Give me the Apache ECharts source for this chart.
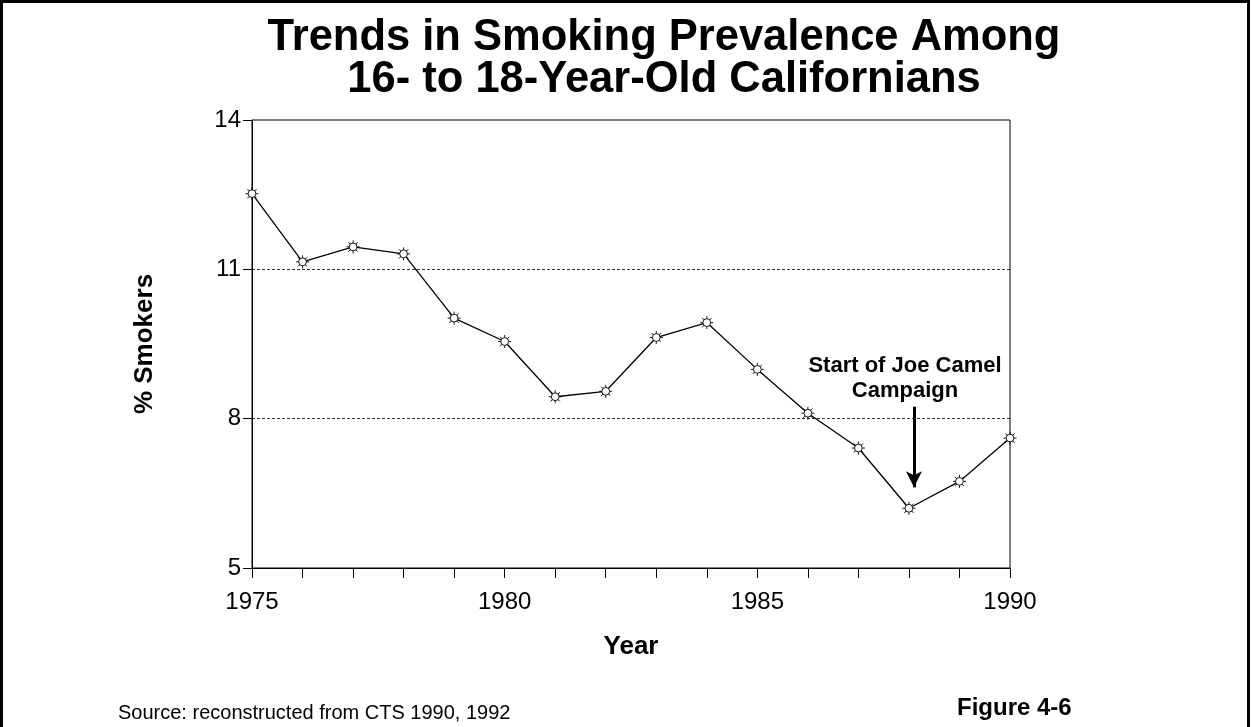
<!DOCTYPE html>
<html>
<head>
<meta charset="utf-8">
<script src="https://cdn.jsdelivr.net/npm/echarts@6/dist/echarts.min.js"></script>
<style>
  html, body { margin: 0; padding: 0; background: #fff; }
  #chart { width: 1252px; height: 727px; }
</style>
</head>
<body>
<div id="chart"></div>
<script>
const years = [1975, 1976, 1977, 1978, 1979, 1980, 1981, 1982, 1983, 1984, 1985, 1986, 1987, 1988, 1989, 1990]
const smokers = [12.52, 11.15, 11.45, 11.31, 10.02, 9.55, 8.44, 8.55, 9.63, 9.93, 8.99, 8.11, 7.41, 6.2, 6.74, 7.61]
const yTicks = [5, 8, 11, 14]
const refLines = [8, 11]
const campaignYear = 1988.1
const arrowFrom = 8.24
const arrowTo = 6.62

// little sun-shaped marker like the original
const sun = 'path://M-3,0A3,3 0 1,0 3,0A3,3 0 1,0 -3,0Z' +
  'M0,-3L0,-5M0,3L0,5M-3,0L-5,0M3,0L5,0' +
  'M2.1,2.1L3.6,3.6M-2.1,2.1L-3.6,3.6M2.1,-2.1L3.6,-3.6M-2.1,-2.1L-3.6,-3.6'

const chart = echarts.init(document.getElementById('chart'))
const font = '"Liberation Sans", Arial, sans-serif'

chart.setOption({
  animation: false,
  textStyle: { fontFamily: font, color: '#000' },
  title: {
    text: 'Trends in Smoking Prevalence Among\n16- to 18-Year-Old Californians',
    left: 659,
    textAlign: 'center',
    top: 12,
    textStyle: { fontFamily: font, fontSize: 43.5, fontWeight: 'bold', color: '#000', lineHeight: 42 }
  },
  grid: {
    left: 252,
    right: 242,
    top: 120,
    bottom: 159,
    show: true,
    borderColor: '#000',
    borderWidth: 1
  },
  xAxis: {
    type: 'value',
    min: 1975,
    max: 1990,
    interval: 5,
    name: 'Year',
    nameLocation: 'middle',
    nameGap: 66,
    nameTextStyle: { fontFamily: font, fontSize: 26, fontWeight: 'bold', color: '#000' },
    axisLine: { lineStyle: { color: '#000', width: 1 } },
    axisTick: { show: true, length: 10, lineStyle: { color: '#000' } },
    minorTick: { show: true, splitNumber: 5, length: 10, lineStyle: { color: '#000' } },
    axisLabel: { fontFamily: font, fontSize: 24, color: '#000', margin: 22, formatter: v => String(v) },
    splitLine: { show: false }
  },
  yAxis: {
    type: 'value',
    min: 5,
    max: 14,
    name: '% Smokers',
    nameLocation: 'middle',
    nameRotate: 90,
    nameGap: 94,
    nameTextStyle: { fontFamily: font, fontSize: 26, fontWeight: 'bold', color: '#000' },
    axisLine: { show: true, lineStyle: { color: '#000', width: 1 } },
    axisTick: { show: true, length: 9, customValues: yTicks, lineStyle: { color: '#000' } },
    axisLabel: { fontFamily: font, fontSize: 24, color: '#000', margin: 11, customValues: yTicks },
    splitLine: { show: false }
  },
  series: [
    {
      type: 'line',
      data: years.map((y, i) => [y, smokers[i]]),
      symbol: sun,
      symbolSize: 13,
      showAllSymbol: true,
      lineStyle: { color: '#000', width: 1.3 },
      itemStyle: { color: '#fff', borderColor: '#000', borderWidth: 0.9 },
      markLine: {
        silent: true,
        symbol: 'none',
        label: { show: false },
        lineStyle: { color: '#000', type: [3, 2], width: 0.8 },
        data: refLines.map(v => ({ yAxis: v }))
      },
      z: 3
    },
    {
      type: 'line',
      data: [],
      markLine: {
        silent: true,
        symbol: ['none', 'arrow'],
        symbolSize: [12, 16],
        lineStyle: { color: '#000', type: 'solid', width: 3 },
        label: { show: false },
        data: [[
          { coord: [campaignYear, arrowFrom] },
          { coord: [campaignYear, arrowTo] }
        ]]
      }
    }
  ],
  graphic: [
    {
      type: 'rect',
      shape: { x: 1.5, y: 1.5, width: 1247, height: 780 },
      style: { fill: 'none', stroke: '#000', lineWidth: 3 },
      silent: true
    },
    {
      type: 'text',
      x: 905,
      y: 378,
      style: {
        text: 'Start of Joe Camel\nCampaign',
        font: 'bold 22px ' + font,
        fill: '#000',
        align: 'center',
        verticalAlign: 'middle',
        lineHeight: 25
      }
    },
    {
      type: 'text',
      x: 118,
      y: 713,
      style: { text: 'Source: reconstructed from CTS 1990, 1992', font: '20px ' + font, fill: '#000', verticalAlign: 'middle' }
    },
    {
      type: 'text',
      x: 957,
      y: 708,
      style: { text: 'Figure 4-6', font: 'bold 24px ' + font, fill: '#000', verticalAlign: 'middle' }
    }
  ]
})
</script>
</body>
</html>
